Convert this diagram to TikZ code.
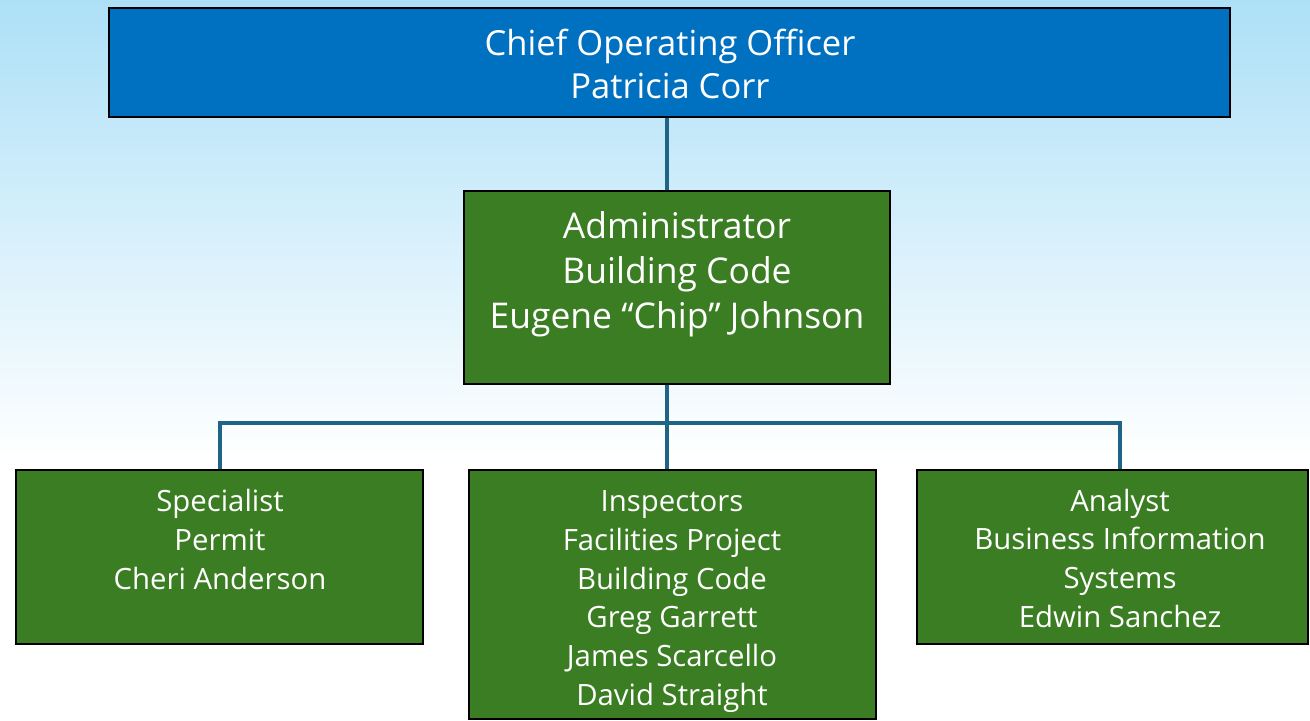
\documentclass[tikz,border=0pt]{standalone}
\usepackage{fontspec}
\setmainfont{Open Sans}
\definecolor{bluebox}{RGB}{0,112,192}
\definecolor{greenbox}{RGB}{59,125,35}
\definecolor{connc}{RGB}{31,100,135}
\definecolor{sky}{RGB}{173,224,247}
\begin{document}
\begin{tikzpicture}[x=0.75pt,y=-0.75pt,
  bbox/.style={draw=black, line width=2.2pt, fill=bluebox, inner sep=0pt},
  gbox/.style={draw=black, line width=1.6pt, fill=greenbox, inner sep=0pt},
  bigtxt/.style={text=white, align=center, inner sep=0pt, font=\fontsize{25.9}{32.25}\selectfont},
  midtxt/.style={text=white, align=center, inner sep=0pt, font=\fontsize{26.6}{33.75}\selectfont},
  smtxt/.style={text=white, align=center, inner sep=0pt, font=\fontsize{22}{29}\selectfont},
  conn/.style={draw=connc, line width=3pt}]
\useasboundingbox (0,0) rectangle (1310,721);
\shade[top color=sky, bottom color=white] (0,0) rectangle (1310,460);
\fill[white] (0,460) rectangle (1310,721);

\node[bbox, minimum width=840.75pt, minimum height=81.75pt] (coo) at (669.5,62.5) {};
\node[bigtxt] (cootxt) at (670,63.5) {Chief Operating Officer\\Patricia Corr};

\node[gbox, minimum width=319.5pt, minimum height=144.75pt] (adm) at (677,287.5) {};
\node[midtxt] (admtxt) at (677,274) {Administrator\\Building Code\\Eugene “Chip” Johnson};

\node[gbox, minimum width=305.25pt, minimum height=130.5pt] (spec) at (219.5,557) {};
\node[smtxt] (spectxt) at (220,539.5) {Specialist\\Permit\\Cheri Anderson};

\node[gbox, minimum width=305.25pt, minimum height=186.75pt] (insp) at (672.5,594.5) {};
\node[smtxt] (insptxt) at (672,601.5) {Inspectors\\Facilities Project\\Building Code\\Greg Garrett\\James Scarcello\\David Straight};

\node[gbox, minimum width=293.25pt, minimum height=130.5pt] (anl) at (1112.5,557) {};
\node[smtxt] (anltxt) at (1120,558) {Analyst\\Business Information\\Systems\\Edwin Sanchez};

\coordinate (tx) at (667,0);
\coordinate (ax) at (1120,0);
\coordinate (bus) at (0,423);

\draw[conn] (coo.south -| tx) -- (adm.north -| tx);
\draw[conn] (adm.south -| tx) -- (insp.north -| tx);
\draw[conn] (spec.north) -- (spec.north |- bus) -- (bus -| ax) -- (ax |- anl.north);
\end{tikzpicture}
\end{document}
